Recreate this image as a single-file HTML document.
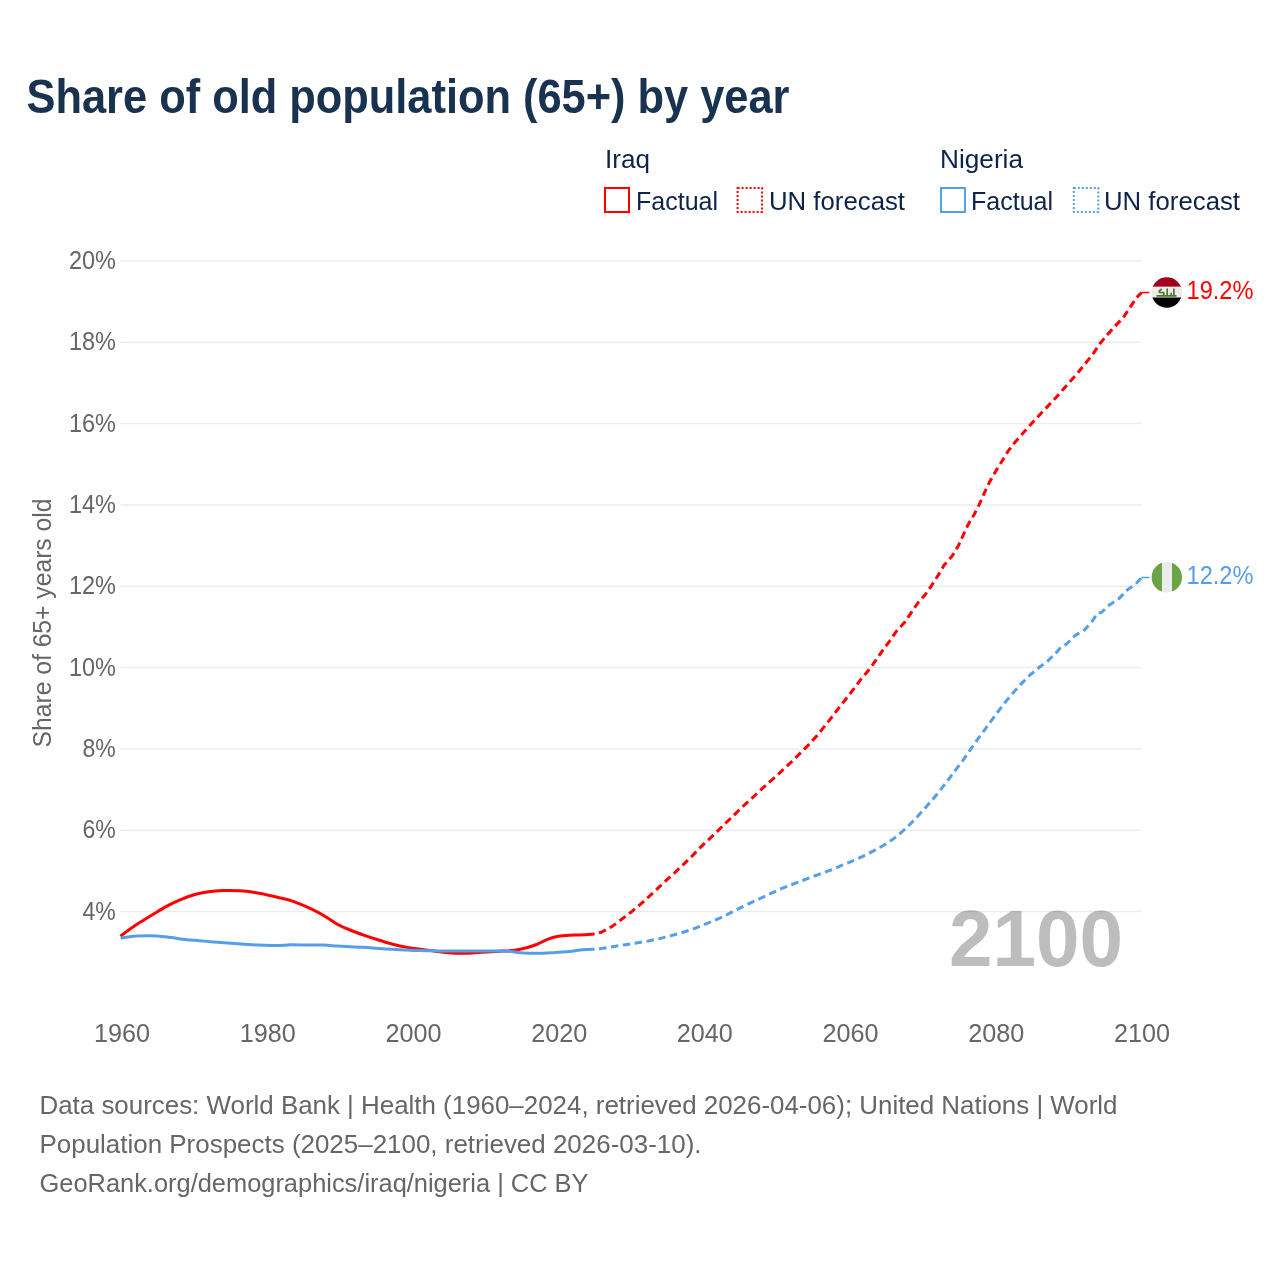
<!DOCTYPE html>
<html><head><meta charset="utf-8"><title>Share of old population (65+) by year</title>
<style>
html,body{margin:0;padding:0;background:#fff;}
body{width:1280px;height:1280px;overflow:hidden;}
svg{display:block;font-family:"Liberation Sans",sans-serif;will-change:transform;}
</style></head><body>
<svg width="1280" height="1280" viewBox="0 0 1280 1280">
<rect width="1280" height="1280" fill="#fff"/>
<text x="949" y="965.8" font-size="80.5" fill="#bdbdbd" font-weight="bold" textLength="174" lengthAdjust="spacingAndGlyphs" text-anchor="start">2100</text>
<line x1="120.5" y1="260.9" x2="1141.7" y2="260.9" stroke="#000" stroke-opacity="0.075" stroke-width="1.5"/>
<line x1="120.5" y1="342.2" x2="1141.7" y2="342.2" stroke="#000" stroke-opacity="0.075" stroke-width="1.5"/>
<line x1="120.5" y1="423.6" x2="1141.7" y2="423.6" stroke="#000" stroke-opacity="0.075" stroke-width="1.5"/>
<line x1="120.5" y1="504.9" x2="1141.7" y2="504.9" stroke="#000" stroke-opacity="0.075" stroke-width="1.5"/>
<line x1="120.5" y1="586.2" x2="1141.7" y2="586.2" stroke="#000" stroke-opacity="0.075" stroke-width="1.5"/>
<line x1="120.5" y1="667.6" x2="1141.7" y2="667.6" stroke="#000" stroke-opacity="0.075" stroke-width="1.5"/>
<line x1="120.5" y1="748.9" x2="1141.7" y2="748.9" stroke="#000" stroke-opacity="0.075" stroke-width="1.5"/>
<line x1="120.5" y1="830.2" x2="1141.7" y2="830.2" stroke="#000" stroke-opacity="0.075" stroke-width="1.5"/>
<line x1="120.5" y1="911.6" x2="1141.7" y2="911.6" stroke="#000" stroke-opacity="0.075" stroke-width="1.5"/>
<text x="69" y="268.9" font-size="26.5" fill="#666666" textLength="47" lengthAdjust="spacingAndGlyphs" text-anchor="start">20%</text>
<text x="69" y="350.2" font-size="26.5" fill="#666666" textLength="47" lengthAdjust="spacingAndGlyphs" text-anchor="start">18%</text>
<text x="69" y="431.6" font-size="26.5" fill="#666666" textLength="47" lengthAdjust="spacingAndGlyphs" text-anchor="start">16%</text>
<text x="69" y="512.9" font-size="26.5" fill="#666666" textLength="47" lengthAdjust="spacingAndGlyphs" text-anchor="start">14%</text>
<text x="69" y="594.2" font-size="26.5" fill="#666666" textLength="47" lengthAdjust="spacingAndGlyphs" text-anchor="start">12%</text>
<text x="69" y="675.6" font-size="26.5" fill="#666666" textLength="47" lengthAdjust="spacingAndGlyphs" text-anchor="start">10%</text>
<text x="82.5" y="756.9" font-size="26.5" fill="#666666" textLength="33.3" lengthAdjust="spacingAndGlyphs" text-anchor="start">8%</text>
<text x="82.5" y="838.2" font-size="26.5" fill="#666666" textLength="33.3" lengthAdjust="spacingAndGlyphs" text-anchor="start">6%</text>
<text x="82.5" y="919.6" font-size="26.5" fill="#666666" textLength="33.3" lengthAdjust="spacingAndGlyphs" text-anchor="start">4%</text>
<text x="122.0" y="1041.75" font-size="26.5" fill="#666666" textLength="56" lengthAdjust="spacingAndGlyphs" text-anchor="middle">1960</text>
<text x="267.7142857142857" y="1041.75" font-size="26.5" fill="#666666" textLength="56" lengthAdjust="spacingAndGlyphs" text-anchor="middle">1980</text>
<text x="413.42857142857144" y="1041.75" font-size="26.5" fill="#666666" textLength="56" lengthAdjust="spacingAndGlyphs" text-anchor="middle">2000</text>
<text x="559.1428571428571" y="1041.75" font-size="26.5" fill="#666666" textLength="56" lengthAdjust="spacingAndGlyphs" text-anchor="middle">2020</text>
<text x="704.8571428571429" y="1041.75" font-size="26.5" fill="#666666" textLength="56" lengthAdjust="spacingAndGlyphs" text-anchor="middle">2040</text>
<text x="850.5714285714286" y="1041.75" font-size="26.5" fill="#666666" textLength="56" lengthAdjust="spacingAndGlyphs" text-anchor="middle">2060</text>
<text x="996.2857142857143" y="1041.75" font-size="26.5" fill="#666666" textLength="56" lengthAdjust="spacingAndGlyphs" text-anchor="middle">2080</text>
<text x="1142.0" y="1041.75" font-size="26.5" fill="#666666" textLength="56" lengthAdjust="spacingAndGlyphs" text-anchor="middle">2100</text>
<text transform="translate(50.75,747.5) rotate(-90)" x="0" y="0" font-size="26" fill="#666666" textLength="249" lengthAdjust="spacingAndGlyphs">Share of 65+ years old</text>
<path d="M120.6,936.2 C121.70,935.35 124.23,933.25 127.2,931.1 C130.17,928.95 134.18,926.03 138.4,923.3 C142.62,920.57 147.82,917.52 152.5,914.7 C157.18,911.88 161.82,908.90 166.5,906.4 C171.18,903.90 175.90,901.68 180.6,899.7 C185.30,897.72 190.02,895.83 194.7,894.5 C199.38,893.17 204.02,892.35 208.7,891.7 C213.38,891.05 217.68,890.75 222.8,890.6 C227.92,890.45 234.30,890.53 239.4,890.8 C244.50,891.07 248.72,891.50 253.4,892.2 C258.08,892.90 262.80,893.98 267.5,895 C272.20,896.02 277.70,897.37 281.6,898.3 C285.50,899.23 287.00,899.28 290.9,900.6 C294.80,901.92 300.32,904.17 305,906.2 C309.68,908.23 315.10,910.77 319,912.8 C322.90,914.83 325.27,916.45 328.4,918.4 C331.53,920.35 334.20,922.57 337.8,924.5 C341.40,926.43 345.68,928.23 350,930 C354.32,931.77 359.07,933.47 363.7,935.1 C368.33,936.73 373.10,938.32 377.8,939.8 C382.50,941.28 387.22,942.78 391.9,944 C396.58,945.22 401.22,946.23 405.9,947.1 C410.58,947.97 415.32,948.53 420,949.2 C424.68,949.87 429.32,950.52 434,951.1 C438.68,951.68 442.93,952.35 448.1,952.7 C453.27,953.05 459.37,953.28 465,953.2 C470.63,953.12 475.43,952.55 481.9,952.2 C488.37,951.85 498.33,951.43 503.8,951.1 C509.27,950.77 511.07,950.72 514.7,950.2 C518.33,949.68 521.95,948.95 525.6,948 C529.25,947.05 532.95,945.95 536.6,944.5 C540.25,943.05 543.85,940.67 547.5,939.3 C551.15,937.93 554.85,936.98 558.5,936.3 C562.15,935.62 565.77,935.42 569.4,935.2 C573.03,934.98 576.10,935.18 580.3,935 C584.50,934.82 592.22,934.25 594.6,934.1" fill="none" stroke="#ff0000" stroke-width="3" stroke-linejoin="round" stroke-linecap="butt"/>
<polyline points="594.6,934.1 601.9,932 612.2,926.4 621.6,919.3 630.9,912.3 639.8,904.8 648.7,896.9 657.2,888.9 665.6,880.9 674.5,873 683,864.8 691.4,856.8 699.4,848.4 707.8,840.4 716.2,832.5 724.7,824 733.1,816.1 741.5,807.6 750.4,799.7 759.4,791.2 767.8,783.3 776.6,775.9 785,767.9 793.4,760 801.9,751.5 810.3,743.1 817.8,734.7 825.3,725.3 832.8,715.9 839.8,706.6 847.3,697.2 854.3,688.2 861.4,678.7 869.2,669.6 875.9,660.1 882.5,650.6 889.6,641.1 896.3,631.3 904.2,622.8 911.2,612.7 917.8,603 925.4,594.4 932,584.8 938.6,574.6 944.2,565 952.3,555.8 958.4,545.7 963.5,534.5 968.5,523.9 974.6,513.7 980,502.9 984.7,492.2 989.8,481.5 995.9,470.9 1002,461.2 1008.1,451.1 1015.2,441.9 1023.3,432.8 1030.9,424.2 1039,415.5 1047.2,406.9 1055.3,398.3 1062.6,389.9 1070.8,380.8 1078.3,372.3 1085.8,363 1093.3,353.6 1099.8,343.7 1107.3,334.8 1115.3,325.9 1123.3,317.5 1129.8,307.7 1136.4,297.8 1141.6,292.5" fill="none" stroke="#ff0000" stroke-width="3" stroke-linejoin="round" stroke-dasharray="7.5,4.5" stroke-dashoffset="7.5"/>
<path d="M120.6,938.1 C122.78,937.78 129.17,936.58 133.7,936.2 C138.23,935.82 143.88,935.83 147.8,935.8 C151.72,935.77 153.30,935.70 157.2,936 C161.10,936.30 166.52,937.02 171.2,937.6 C175.88,938.18 180.62,938.98 185.3,939.5 C189.98,940.02 194.62,940.30 199.3,940.7 C203.98,941.10 209.28,941.57 213.4,941.9 C217.52,942.23 218.88,942.32 224,942.7 C229.12,943.08 238.42,943.80 244.1,944.2 C249.78,944.60 252.63,944.87 258.1,945.1 C263.57,945.33 271.43,945.67 276.9,945.6 C282.37,945.53 285.43,944.78 290.9,944.7 C296.37,944.62 304.23,945.03 309.7,945.1 C315.17,945.17 319.02,944.93 323.7,945.1 C328.38,945.27 333.42,945.83 337.8,946.1 C342.18,946.37 345.68,946.50 350,946.7 C354.32,946.90 358.28,946.97 363.7,947.3 C369.12,947.63 376.25,948.30 382.5,948.7 C388.75,949.10 394.95,949.38 401.2,949.7 C407.45,950.02 413.75,950.40 420,950.6 C426.25,950.80 431.20,950.82 438.7,950.9 C446.20,950.98 454.15,951.07 465,951.1 C475.85,951.13 494.60,950.83 503.8,951.1 C513.00,951.37 514.73,952.33 520.2,952.7 C525.67,953.07 531.13,953.30 536.6,953.3 C542.07,953.30 547.53,952.98 553,952.7 C558.47,952.42 564.85,952.05 569.4,951.6 C573.95,951.15 576.10,950.40 580.3,950 C584.50,949.60 592.22,949.33 594.6,949.2" fill="none" stroke="#559fe8" stroke-width="3" stroke-linejoin="round" stroke-linecap="butt"/>
<polyline points="594.6,949.2 602.8,948.3 614.1,946.4 625.3,944.7 636.5,942.9 648.3,941 659.5,938.6 670.3,935.9 681.5,932.8 692.8,929.1 703,925 714.1,920.5 724.8,915.9 735.1,910.3 745.5,905.3 756.2,900.3 766.5,895.5 776.9,890.6 787.6,886.1 798.4,882.1 809.2,877.9 819,874.3 830.9,870 841.7,865.4 852.5,861 862.8,856.3 873.1,851.1 883.4,845.5 893.3,838.9 902.2,831.7 910.6,823.7 918.6,815.3 926.5,806.4 934.1,797.8 941.8,788.1 948.9,779 956,769.3 963.1,760.2 970.2,750 976.8,740.4 983.9,730.8 991,721.1 998.1,711.5 1005.2,702.3 1012.8,693.2 1020.4,684.6 1030,675 1040.3,666.5 1046.9,661.9 1049.7,659 1058.1,650.6 1060.9,646.9 1066.6,644 1075,635.6 1084.4,630 1091.9,621.6 1097.5,613.1 1101.25,612.6 1109.7,604.7 1119,598.6 1127.5,589.7 1135.9,584 1141.5,577.5" fill="none" stroke="#559fe8" stroke-width="3" stroke-linejoin="round" stroke-dasharray="7.5,4.5" stroke-dashoffset="7.5"/>
<line x1="1141.6" y1="292.5" x2="1149.3" y2="292.5" stroke="#ff0000" stroke-width="1.5"/>
<line x1="1141.3" y1="577.5" x2="1149.5" y2="577.5" stroke="#559fe8" stroke-width="1.5"/>
<defs><clipPath id="ciq"><circle cx="1166.8" cy="292.5" r="15.2"/></clipPath><clipPath id="cng"><circle cx="1166.8" cy="577.3" r="15.2"/></clipPath></defs>
<g clip-path="url(#ciq)"><rect x="1150" y="276" width="34" height="10.8" fill="#a0001c"/><rect x="1150" y="286.8" width="34" height="10.7" fill="#ececec"/><rect x="1150" y="297.5" width="34" height="12" fill="#000"/>
<path d="M1161.2,289.3 L1159.3,291.2 Q1158.9,292.5 1160.4,292.5 L1163.7,292.6 L1163.7,295.8 M1157.1,295.8 L1175.8,295.8 M1167.2,289.2 V295.8 M1171.1,293.4 V295.8 M1173.9,289.2 V295.8" fill="none" stroke="#4a7a2a" stroke-width="1.7" stroke-linecap="round" stroke-linejoin="round"/></g>
<g clip-path="url(#cng)"><rect x="1150" y="560" width="12" height="34" fill="#6aa446"/><rect x="1162" y="560" width="10" height="34" fill="#ececec"/><rect x="1172" y="560" width="12" height="34" fill="#6aa446"/></g>
<text x="1186.5" y="299" font-size="26.5" fill="#ff0000" textLength="67" lengthAdjust="spacingAndGlyphs" text-anchor="start">19.2%</text>
<text x="1186.5" y="583.6" font-size="26.5" fill="#559fe8" textLength="67" lengthAdjust="spacingAndGlyphs" text-anchor="start">12.2%</text>
<text x="26.5" y="112.75" font-size="48" fill="#183250" font-weight="bold" textLength="763" lengthAdjust="spacingAndGlyphs" text-anchor="start">Share of old population (65+) by year</text>
<text x="605" y="168.1" font-size="26.5" fill="#0e2349" textLength="45" lengthAdjust="spacingAndGlyphs" text-anchor="start">Iraq</text>
<text x="940" y="168.1" font-size="26.5" fill="#0e2349" textLength="83" lengthAdjust="spacingAndGlyphs" text-anchor="start">Nigeria</text>
<rect x="605" y="188" width="24" height="24" fill="none" stroke="#ff0000" stroke-width="2"/>
<rect x="737.6" y="188" width="24.5" height="24" fill="none" stroke="#ff0000" stroke-width="2" stroke-dasharray="2,2"/>
<rect x="941" y="188" width="24" height="24" fill="none" stroke="#559fe8" stroke-width="2"/>
<rect x="1073.8" y="188" width="24.5" height="24" fill="none" stroke="#559fe8" stroke-width="2" stroke-dasharray="2,2"/>
<text x="636" y="210" font-size="26.5" fill="#0e2349" textLength="82" lengthAdjust="spacingAndGlyphs" text-anchor="start">Factual</text>
<text x="769" y="210" font-size="26.5" fill="#0e2349" textLength="136" lengthAdjust="spacingAndGlyphs" text-anchor="start">UN forecast</text>
<text x="971" y="210" font-size="26.5" fill="#0e2349" textLength="82" lengthAdjust="spacingAndGlyphs" text-anchor="start">Factual</text>
<text x="1104" y="210" font-size="26.5" fill="#0e2349" textLength="136" lengthAdjust="spacingAndGlyphs" text-anchor="start">UN forecast</text>
<text x="39.5" y="1113.9" font-size="26.5" fill="#666666" textLength="1078" lengthAdjust="spacingAndGlyphs" text-anchor="start">Data sources: World Bank | Health (1960–2024, retrieved 2026-04-06); United Nations | World</text>
<text x="39.5" y="1152.8" font-size="26.5" fill="#666666" textLength="662" lengthAdjust="spacingAndGlyphs" text-anchor="start">Population Prospects (2025–2100, retrieved 2026-03-10).</text>
<text x="39.5" y="1191.9" font-size="26.5" fill="#666666" textLength="549" lengthAdjust="spacingAndGlyphs" text-anchor="start">GeoRank.org/demographics/iraq/nigeria | CC BY</text>
</svg>
</body></html>
